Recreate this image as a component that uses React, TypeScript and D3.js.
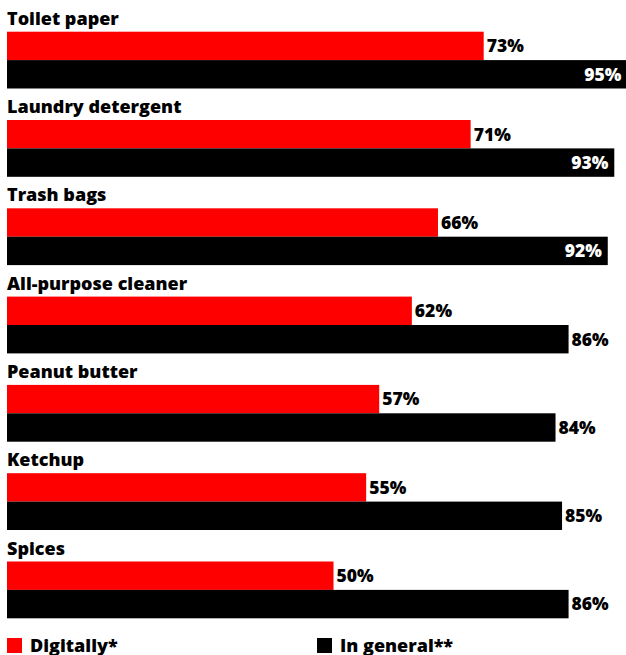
import React from "react";
import * as d3 from "d3";

const categories = [
  "Toilet paper",
  "Laundry detergent",
  "Trash bags",
  "All-purpose cleaner",
  "Peanut butter",
  "Ketchup",
  "Spices",
];
const digitally = [73, 71, 66, 62, 57, 55, 50];
const inGeneral = [95, 93, 92, 86, 84, 85, 86];
const seriesNames = ["Digitally*", "In general**"];
const seriesColors = ["#ff0000", "#000000"];

const W = 626;
const H = 655;
const FONT = "'Open Sans', 'DejaVu Sans', sans-serif";

export default function App() {
  const x = d3.scaleLinear().domain([0, 100]).range([7, 7 + 653]);
  const y = d3
    .scaleBand<string>()
    .domain(categories)
    .range([31.7, 31.7 + 88.3 * 7])
    .paddingInner(0)
    .paddingOuter(0);
  const barH = 28.4;

  return (
    <svg
      width={W}
      height={H}
      style={{ position: "absolute", left: 0, top: 0, background: "#fff" }}
      fontFamily={FONT}
    >
      {categories.map((c, i) => {
        const top = y(c) as number;
        const d = digitally[i];
        const g = inGeneral[i];
        const inside = x(g) > W - 40;
        return (
          <g key={c}>
            <text x={7} y={top - 7} fontSize={18} fontWeight={800} fill="#000">
              {c}
            </text>
            <rect
              x={x(0)}
              y={top}
              width={x(d) - x(0)}
              height={barH}
              fill={seriesColors[0]}
            />
            <text
              x={x(d) + 3}
              y={top + barH / 2}
              dy="0.36em"
              fontSize={17.5}
              fontWeight={800}
              fill="#000"
            >
              {d}%
            </text>
            <rect
              x={x(0)}
              y={top + barH}
              width={x(g) - x(0)}
              height={barH}
              fill={seriesColors[1]}
            />
            <text
              x={inside ? x(g) - 6 : x(g) + 3}
              y={top + barH * 1.5}
              dy="0.36em"
              textAnchor={inside ? "end" : "start"}
              fontSize={17.5}
              fontWeight={800}
              fill={inside ? "#fff" : "#000"}
            >
              {g}%
            </text>
          </g>
        );
      })}
      {seriesNames.map((s, i) => {
        const lx = i === 0 ? 7 : 317;
        return (
          <g key={s}>
            <rect x={lx} y={638} width={15} height={15} fill={seriesColors[i]} />
            <text x={lx + 23} y={652} fontSize={18} fontWeight={800} fill="#000">
              {s}
            </text>
          </g>
        );
      })}
    </svg>
  );
}
